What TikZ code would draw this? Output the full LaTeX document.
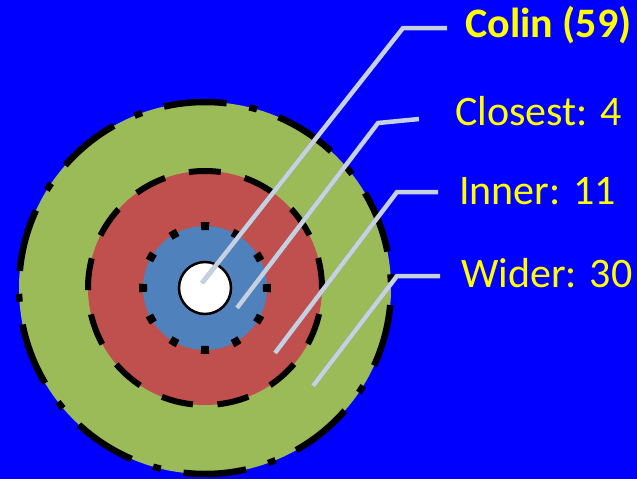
\documentclass[tikz,border=0pt]{standalone}
\usepackage{fontspec}
\setmainfont{Carlito}
\definecolor{bgblue}{RGB}{0,0,255}
\definecolor{ringgreen}{RGB}{155,187,89}
\definecolor{ringred}{RGB}{192,80,77}
\definecolor{ringblue}{RGB}{79,129,189}
\definecolor{callout}{RGB}{197,208,226}
\definecolor{labelyellow}{RGB}{255,255,0}
\tikzset{
  calloutline/.style={draw=callout, line width=4.5pt, line join=miter},
  calloutshadow/.style={draw=black, opacity=0.3, line width=4.5pt},
  ringlabel/.style={anchor=base west, text=labelyellow, inner sep=0pt,
    font=\fontsize{42}{50}\selectfont},
}
\begin{document}
\begin{tikzpicture}[x=1pt,y=-1pt]
\useasboundingbox (0,0) rectangle (637,479);
\fill[bgblue] (0,0) rectangle (637,479);
% rings
\coordinate (c) at (205,288);
\fill[ringgreen] (c) circle (186);
\draw[line width=6.5pt, dash pattern=on 63pt off 23pt on 8pt off 22.9pt, dash phase=99.9pt] (c) circle (186);
\fill[ringred] (c) circle (117);
\draw[line width=6pt, dash pattern=on 32pt off 24.55pt, dash phase=30.3pt] (c) circle (117);
\fill[ringblue] (c) circle (62);
\draw[line width=8pt, dash pattern=on 8pt off 24.47pt, dash phase=4pt] (c) circle (62);
\node[circle, fill=white, draw=black, line width=2.5pt, minimum size=52pt, inner sep=0pt] (core) at (c) {};
% labels
\node[ringlabel, font=\fontsize{42}{50}\selectfont\bfseries] (colin) at (465,37) {Colin (59)};
\node[ringlabel] (closest) at (455,125) {Closest: 4};
\node[ringlabel] (inner) at (459,204) {Inner: 11};
\node[ringlabel] (wider) at (461,287) {Wider: 30};
% callout points
\coordinate (p1) at (202,283); \coordinate (k1) at (403,28);  \coordinate (e1) at (447,28);
\coordinate (p2) at (237,308); \coordinate (k2) at (378,123); \coordinate (e2) at (419,119);
\coordinate (p3) at (275,353); \coordinate (k3) at (397,192); \coordinate (e3) at (438,192);
\coordinate (p4) at (313,386); \coordinate (k4) at (397,276); \coordinate (e4) at (440,276);
% shadows
\begin{scope}[shift={(1.5,2)}]
\draw[calloutshadow] (p1) -- (k1) -- (e1);
\draw[calloutshadow] (p2) -- (k2) -- (e2);
\draw[calloutshadow] (p3) -- (k3) -- (e3);
\draw[calloutshadow] (p4) -- (k4) -- (e4);
\end{scope}
% callout lines
\draw[calloutline] (p1) -- (k1) -- (e1);
\draw[calloutline] (p2) -- (k2) -- (e2);
\draw[calloutline] (p3) -- (k3) -- (e3);
\draw[calloutline] (p4) -- (k4) -- (e4);
\end{tikzpicture}
\end{document}
